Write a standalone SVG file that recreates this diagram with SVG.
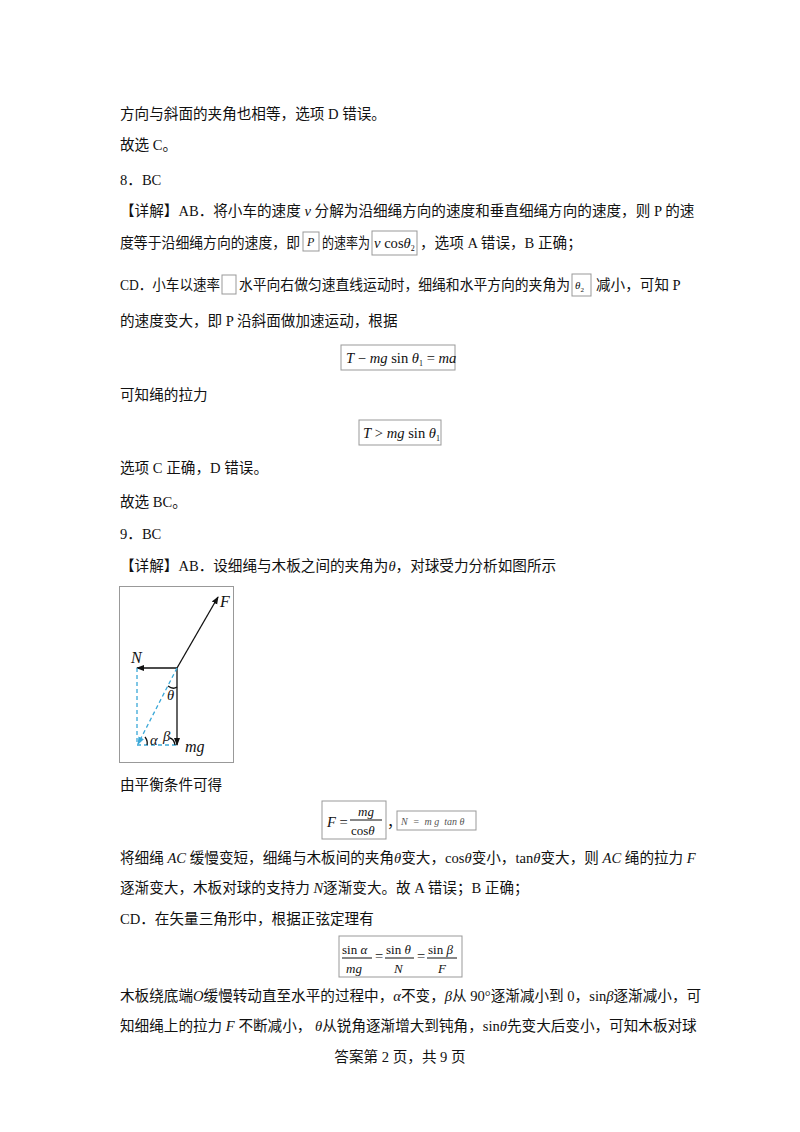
<svg xmlns="http://www.w3.org/2000/svg" width="800" height="1132" viewBox="0 0 800 1132">
<style>
text{font-family:"Liberation Serif","Noto Sans CJK SC",serif;font-size:14.6px;fill:#111}
.i{font-style:italic}
.b{fill:none;stroke:#999;stroke-width:1}
.k{stroke:#111;stroke-width:1.3;fill:none}
.d{stroke:#3aa8d8;stroke-width:1.3;fill:none;stroke-dasharray:4 3}
</style>
<defs>
<marker id="a" markerWidth="8" markerHeight="8" refX="7" refY="4" orient="auto" markerUnits="userSpaceOnUse"><path d="M0,1 L8,4 L0,7 Z" fill="#111"/></marker>
<marker id="c" markerWidth="8" markerHeight="8" refX="7" refY="4" orient="auto" markerUnits="userSpaceOnUse"><path d="M0,1 L8,4 L0,7 Z" fill="#3aa8d8"/></marker>
</defs>
<rect width="800" height="1132" fill="#fff"/>
<text x="120" y="119">方向与斜面的夹角也相等，选项  D 错误。</text>
<text x="120" y="150">故选  C。</text>
<text x="120" y="185">8．BC</text>
<text x="120" y="216">【详解】AB．将小车的速度  <tspan class="i">v</tspan> 分解为沿细绳方向的速度和垂直细绳方向的速度，则  P 的速</text>
<text x="120" y="248" textLength="180" lengthAdjust="spacingAndGlyphs">度等于沿细绳方向的速度，即</text>
<rect class="b" x="303" y="232" width="16" height="19"/><text x="307" y="246" class="i" style="font-size:12px">P</text>
<text x="322" y="248" textLength="48" lengthAdjust="spacingAndGlyphs">的速率为</text>
<rect class="b" x="372" y="231" width="45" height="24"/><text x="374" y="248"><tspan class="i">v</tspan> cos<tspan class="i">θ</tspan><tspan style="font-size:8px" dy="3">2</tspan></text>
<text x="420" y="248">，选项  A 错误，B 正确；</text>
<text x="120" y="290" textLength="100" lengthAdjust="spacingAndGlyphs">CD．小车以速率</text>
<rect class="b" x="222" y="275" width="14" height="19"/>
<text x="239" y="290" textLength="331" lengthAdjust="spacingAndGlyphs">水平向右做匀速直线运动时，细绳和水平方向的夹角为</text>
<rect class="b" x="572" y="274" width="19" height="22"/><text x="575" y="289" style="font-size:11px"><tspan class="i">θ</tspan><tspan style="font-size:7px" dy="3">2</tspan></text>
<text x="596" y="290">减小，可知  P</text>
<text x="120" y="326">的速度变大，即  P 沿斜面做加速运动，根据</text>
<rect class="b" x="341" y="345" width="114" height="25"/>
<text x="346" y="363"><tspan class="i">T</tspan> − <tspan class="i">mg</tspan> sin <tspan class="i">θ</tspan><tspan style="font-size:8px" dy="3">1</tspan><tspan dy="-3"> = </tspan><tspan class="i">ma</tspan></text>
<text x="120" y="400">可知绳的拉力</text>
<rect class="b" x="359" y="420" width="82" height="25"/>
<text x="363" y="438"><tspan class="i">T</tspan> &gt; <tspan class="i">mg</tspan> sin <tspan class="i">θ</tspan><tspan style="font-size:8px" dy="3">1</tspan></text>
<text x="120" y="473">选项  C 正确，D 错误。</text>
<text x="120" y="507">故选  BC。</text>
<text x="120" y="539">9．BC</text>
<text x="120" y="571">【详解】AB．设细绳与木板之间的夹角为<tspan class="i">θ</tspan>，对球受力分析如图所示</text>
<g id="figure">
<rect class="b" x="119.5" y="586.5" width="114" height="176"/>
<line class="k" x1="177" y1="668" x2="218" y2="597" marker-end="url(#a)"/>
<line class="k" x1="177" y1="668" x2="137" y2="668" marker-end="url(#a)"/>
<line class="k" x1="177" y1="668" x2="177" y2="745" marker-end="url(#a)"/>
<line class="d" x1="137" y1="668" x2="137" y2="745"/>
<line class="d" x1="137" y1="745" x2="178" y2="745"/>
<line class="d" x1="177" y1="668" x2="138" y2="744" marker-end="url(#c)"/>
<path class="k" d="M168,686 Q173,690 177,687" stroke-width="1"/>
<path class="k" d="M145,737 Q148,741 147,745" stroke-width="1"/>
<path class="k" d="M170,738 Q174,739 175,745" stroke-width="1"/>
<text x="220" y="607" class="i" style="font-size:16px">F</text>
<text x="131" y="663" class="i" style="font-size:16px">N</text>
<text x="167" y="700" class="i">θ</text>
<text x="150" y="745" class="i">α</text>
<text x="163" y="741" class="i">β</text>
<text x="185" y="752" class="i" style="font-size:16px">mg</text>
</g>
<text x="120" y="790">由平衡条件可得</text>
<rect class="b" x="322" y="801" width="64" height="38"/>
<text x="327" y="827"><tspan class="i">F</tspan> =</text>
<text x="358" y="816" class="i" style="font-size:13px">mg</text>
<line x1="350" y1="820" x2="382" y2="820" stroke="#111" stroke-width="1"/>
<text x="351" y="835" style="font-size:13px">cos<tspan class="i">θ</tspan></text>
<text x="387" y="827">，</text>
<rect class="b" x="397" y="811" width="79" height="19"/>
<text x="401" y="825" style="font-size:10px;fill:#555" class="i" xml:space="preserve">N  =  m g  tan θ</text>
<text x="120" y="863">将细绳  <tspan class="i">AC</tspan> 缓慢变短，细绳与木板间的夹角<tspan class="i">θ</tspan>变大，cos<tspan class="i">θ</tspan>变小，tan<tspan class="i">θ</tspan>变大，则  <tspan class="i">AC</tspan> 绳的拉力  <tspan class="i">F</tspan></text>
<text x="120" y="893">逐渐变大，木板对球的支持力  <tspan class="i">N</tspan>逐渐变大。故  A 错误；B 正确；</text>
<text x="120" y="924">CD．在矢量三角形中，根据正弦定理有</text>
<rect class="b" x="339" y="936" width="123" height="41"/>
<text x="342" y="954" style="font-size:13px">sin <tspan class="i">α</tspan></text>
<line x1="342" y1="958" x2="372" y2="958" stroke="#111" stroke-width="1"/>
<text x="346" y="973" class="i" style="font-size:13px">mg</text>
<text x="375" y="961">=</text>
<text x="386" y="954" style="font-size:13px">sin <tspan class="i">θ</tspan></text>
<line x1="385" y1="958" x2="414" y2="958" stroke="#111" stroke-width="1"/>
<text x="394" y="973" class="i" style="font-size:13px">N</text>
<text x="417" y="961">=</text>
<text x="428" y="954" style="font-size:13px">sin <tspan class="i">β</tspan></text>
<line x1="427" y1="958" x2="457" y2="958" stroke="#111" stroke-width="1"/>
<text x="438" y="973" class="i" style="font-size:13px">F</text>
<text x="120" y="1001">木板绕底端<tspan class="i">O</tspan>缓慢转动直至水平的过程中，<tspan class="i">α</tspan>不变，<tspan class="i">β</tspan>从  90°逐渐减小到  0，sin<tspan class="i">β</tspan>逐渐减小，可</text>
<text x="120" y="1031">知细绳上的拉力  <tspan class="i">F</tspan> 不断减小，   <tspan class="i">θ</tspan>从锐角逐渐增大到钝角，sin<tspan class="i">θ</tspan>先变大后变小，可知木板对球</text>
<text x="400" y="1062" text-anchor="middle">答案第  2 页，共  9 页</text>
</svg>
